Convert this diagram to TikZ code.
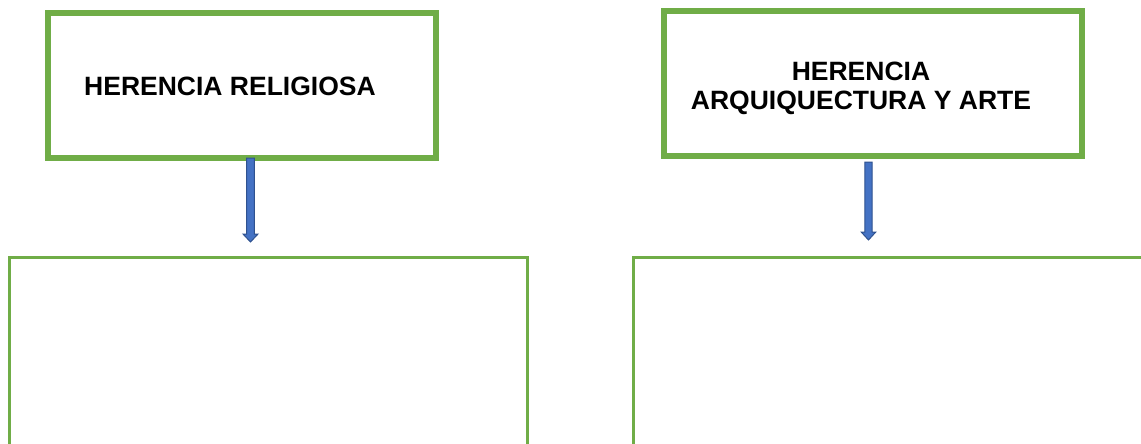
\documentclass[tikz,border=0pt]{standalone}
\usepackage{fontspec}
\setmainfont{Liberation Sans}
\usetikzlibrary{calc}
\definecolor{boxgreen}{HTML}{70AD47}
\definecolor{arrowblue}{HTML}{4472C4}
\definecolor{arrowline}{HTML}{2F528F}
\tikzset{
  headbox/.style={draw=boxgreen, line width=6pt, fill=white, inner sep=0pt, outer sep=0pt},
  bodybox/.style={draw=boxgreen, line width=3pt, inner sep=0pt, outer sep=0pt},
  title/.style={font=\fontsize{26.5}{28.5}\selectfont\bfseries, align=center, inner sep=0pt},
  blockarrow/.style={fill=arrowblue, draw=arrowline, line width=1pt, line join=miter}
}
\begin{document}
\begin{tikzpicture}[x=1pt,y=-1pt]
\useasboundingbox (0,0) rectangle (1141,444);
\clip (0,0) rectangle (1141,444);
\fill[white] (0,0) rectangle (1141,444);
% top boxes
\node[headbox, minimum width=388pt, minimum height=145pt] (boxA) at (242,85.5) {};
\node[headbox, minimum width=418pt, minimum height=145pt] (boxB) at (873,83.5) {};
% titles
\node[title] (tA) at (230,86.7) {HERENCIA RELIGIOSA};
\node[title] (tB) at (861,88.5) {HERENCIA\\ARQUIQUECTURA Y ARTE};
% bottom boxes
\node[bodybox, minimum width=518pt, minimum height=212.5pt] (boxC) at (268,363.75) {};
\node[bodybox, minimum width=537pt, minimum height=212.5pt] (boxD) at (901.5,363.75) {};
% arrows
\coordinate (a1s) at (boxA.south -| 250.5,0);
\coordinate (a1t) at ($(boxC.north -| 250.5,0)+(0,-15.5)$);
\draw[blockarrow] ($(a1s)+(-3.8,0)$) -- ($(a1s)+(3.8,0)$) -- ($(a1t)+(3.8,-8)$) -- ($(a1t)+(7.5,-8)$) -- (a1t) -- ($(a1t)+(-7.5,-8)$) -- ($(a1t)+(-3.8,-8)$) -- cycle;
\coordinate (a2s) at ($(boxB.south -| 868.5,0)+(0,6)$);
\coordinate (a2t) at ($(boxD.north -| 868.5,0)+(0,-17.5)$);
\draw[blockarrow] ($(a2s)+(-3.6,0)$) -- ($(a2s)+(3.6,0)$) -- ($(a2t)+(3.6,-8)$) -- ($(a2t)+(7.3,-8)$) -- (a2t) -- ($(a2t)+(-7.3,-8)$) -- ($(a2t)+(-3.6,-8)$) -- cycle;
\end{tikzpicture}
\end{document}
